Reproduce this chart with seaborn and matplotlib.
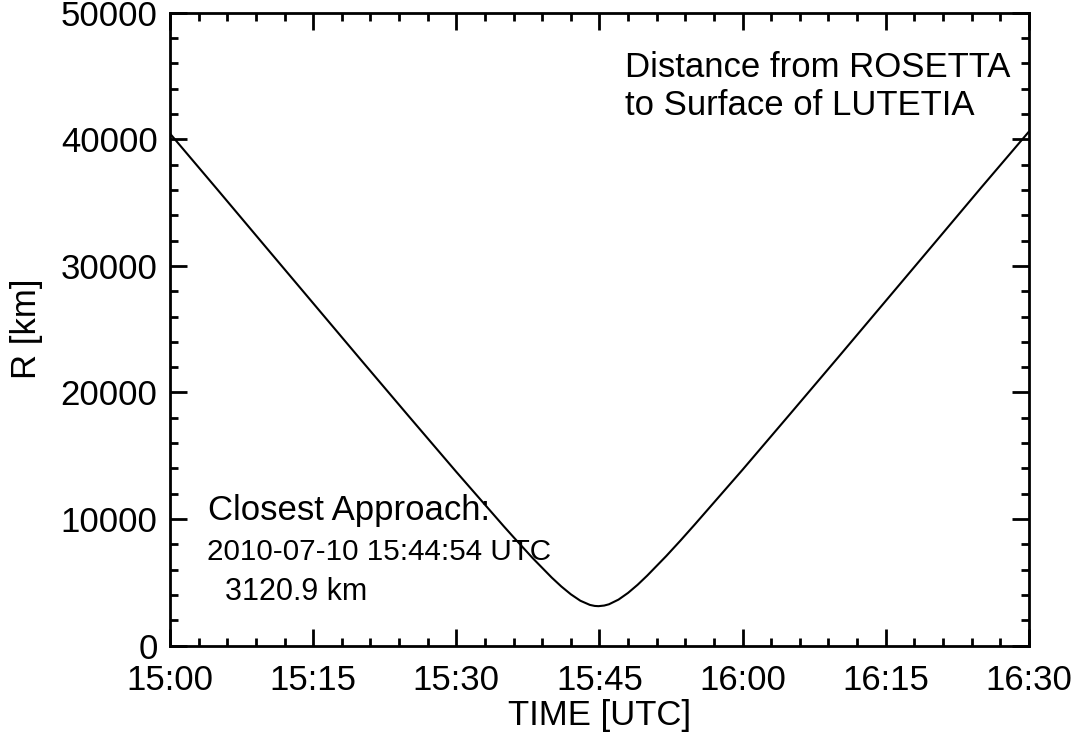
import pandas as pd
import numpy as np
import matplotlib
matplotlib.use('Agg')
import matplotlib.pyplot as plt
import matplotlib.dates as mdates
import seaborn as sns

# Distance values
times = ['15:00:00', '15:05:00', '15:10:00', '15:15:00', '15:20:00', '15:25:00',
         '15:30:00', '15:35:00', '15:36:00', '15:38:00', '15:40:00', '15:41:00',
         '15:42:00', '15:43:00', '15:44:00', '15:44:30', '15:44:54', '15:45:30',
         '15:46:00', '15:47:00', '15:48:00', '15:49:00', '15:50:00', '15:52:00',
         '15:53:30', '15:55:00', '16:00:00', '16:05:00', '16:10:00', '16:15:00',
         '16:20:00', '16:25:00', '16:30:00']
dist_km = [40450, 36000, 31520, 27050, 22580, 18140,
           13730, 9410, 8570, 6920, 5380, 4680,
           4060, 3550, 3220, 3140, 3121, 3170,
           3270, 3640, 4170, 4810, 5530, 7080,
           8310, 9580, 13900, 18320, 22760, 27230,
           31700, 36180, 40600]

x_ticks = ['15:00', '15:15', '15:30', '15:45', '16:00', '16:15', '16:30']
y_ticks = [0, 10000, 20000, 30000, 40000, 50000]

df = pd.DataFrame({'time': pd.to_datetime(['2010-07-10 ' + t for t in times]),
                   'R': dist_km})

sns.set_style('ticks')
plt.rcParams['font.family'] = ['Liberation Sans', 'DejaVu Sans']
plt.rcParams['text.color'] = 'black'
plt.rcParams['axes.labelcolor'] = 'black'
plt.rcParams['xtick.color'] = 'black'
plt.rcParams['ytick.color'] = 'black'

fig = plt.figure(figsize=(10.83, 7.38), dpi=100)
ax = fig.add_axes([0.157, 0.1251, 0.793, 0.8577])

sns.lineplot(data=df, x='time', y='R', color='black', linewidth=1.5, ax=ax)

t0 = pd.Timestamp('2010-07-10 15:00')
t1 = pd.Timestamp('2010-07-10 16:30')
ax.set_xlim(t0, t1)
ax.set_ylim(0, 50000)

ax.set_xticks(pd.to_datetime(['2010-07-10 ' + t for t in x_ticks]))
ax.xaxis.set_major_formatter(mdates.DateFormatter('%H:%M'))
ax.xaxis.set_minor_locator(mdates.MinuteLocator(byminute=range(0, 60, 3)))
ax.set_yticks(y_ticks)
ax.set_yticklabels([str(v) for v in y_ticks])
ax.yaxis.set_minor_locator(matplotlib.ticker.MultipleLocator(2000))

for s in ax.spines.values():
    s.set_visible(True)
    s.set_linewidth(2)
    s.set_color('black')

ax.tick_params(which='both', direction='in', top=True, right=True,
               width=2, color='black', labelsize=25)
ax.tick_params(which='major', length=12)
ax.tick_params(which='minor', length=6)
ax.tick_params(axis='x', pad=13.5)
ax.tick_params(axis='y', pad=9)

ax.set_xlabel('TIME [UTC]', fontsize=25, labelpad=1)
ax.set_ylabel('R [km]', fontsize=25, labelpad=13)

ax.text(0.5297, 0.8989, 'Distance from ROSETTA', transform=ax.transAxes,
        fontsize=25, va='baseline', ha='left')
ax.text(0.5297, 0.8389, 'to Surface of LUTETIA', transform=ax.transAxes,
        fontsize=25, va='baseline', ha='left')

ax.text(0.0442, 0.1986, 'Closest Approach:', transform=ax.transAxes,
        fontsize=25, va='baseline', ha='left')
ax.text(0.0430, 0.1354, '2010-07-10 15:44:54 UTC', transform=ax.transAxes,
        fontsize=21.3, va='baseline', ha='left')
ax.text(0.0640, 0.0722, '3120.9 km', transform=ax.transAxes,
        fontsize=22, va='baseline', ha='left')

fig.savefig('out.png', dpi=100, facecolor='white')
